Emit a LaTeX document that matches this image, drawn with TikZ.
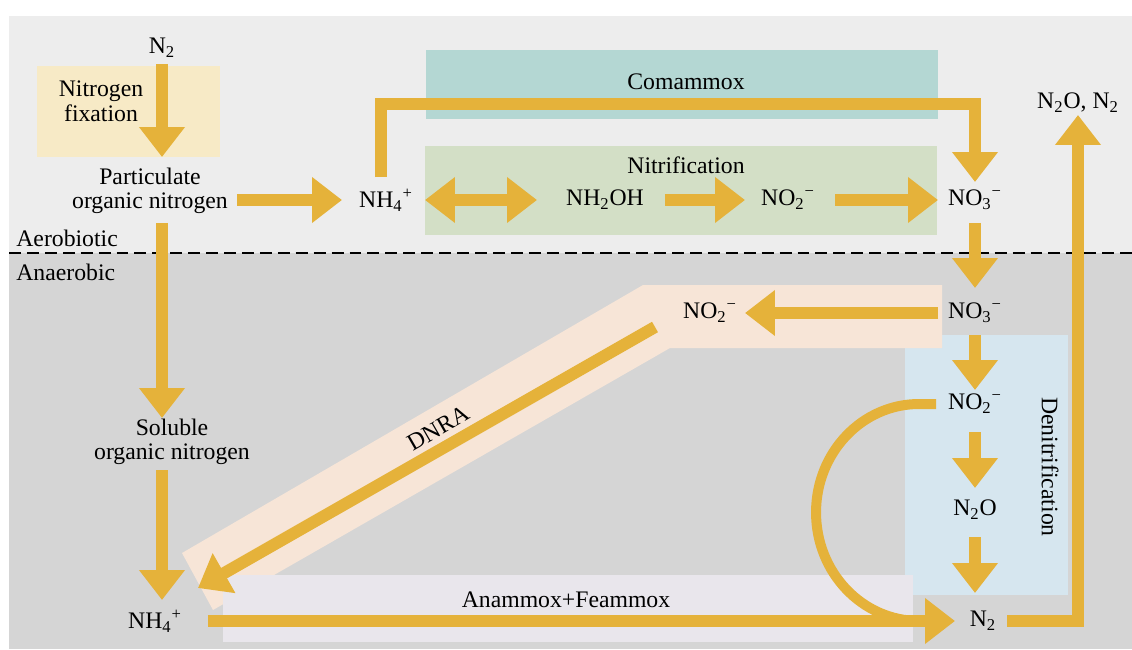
\documentclass[tikz,border=0pt]{standalone}
\usepackage{fontspec}
\setmainfont{Liberation Serif}
\usetikzlibrary{arrows.meta}
\definecolor{flowc}{HTML}{E5B23A}
\definecolor{upperc}{HTML}{EDEDED}
\definecolor{lowerc}{HTML}{D5D5D5}
\definecolor{fixc}{HTML}{F7EAC6}
\definecolor{commc}{HTML}{B4D7D3}
\definecolor{nitrc}{HTML}{D3DFC6}
\definecolor{denitc}{HTML}{D6E6EF}
\definecolor{dnrac}{HTML}{F7E5D7}
\definecolor{anamc}{HTML}{E9E6EC}
\begin{document}
\begin{tikzpicture}[x=0.02cm, y=-0.02cm,
    lbl/.style = {inner sep=0pt, font=\fontsize{13.5}{14}\selectfont, align=center},
    flow/.style = {draw=flowc, line width=0.24cm, line join=miter, -{Triangle[width=0.88cm,length=0.6cm]}},
    flowboth/.style = {draw=flowc, line width=0.24cm, {Triangle[width=0.88cm,length=0.6cm]}-{Triangle[width=0.88cm,length=0.6cm]}}]
        \useasboundingbox (0,0) rectangle (1132,649);
        \fill[white] (0,0) rectangle (1132,649);
        \fill[upperc] (9,16) rectangle (1132,253);
        \fill[lowerc] (9,253) rectangle (1132,649);
        % boxes of the processes
        \fill[fixc] (37,66) rectangle (220,157);
        \fill[commc] (426,50) rectangle (938,119);
        \fill[nitrc] (425,146) rectangle (937,235);
        \fill[denitc] (905,335) rectangle (1068,595);
        \fill[dnrac] (182,553) -- (643,285) -- (942,285) -- (942,348) -- (670,348) -- (213,610) -- cycle;
        \fill[anamc] (223,575) rectangle (913,642);
        \draw[line width=1.1pt, dash pattern=on 6.8pt off 3.4pt] (9,253) -- (1132,253);
        %
        \node[lbl] (n2a) at (162,48) {N\textsubscript{2}};
        \node[lbl] (fix) at (101,101) {Nitrogen\\fixation};
        \node[lbl] (pon) at (150,191) {Particulate\\organic nitrogen};
        \node[lbl] (nh4a) at (386,200) {NH\textsubscript{4}\textsuperscript{+}};
        \node[lbl] (comm) at (686,82) {Comammox};
        \node[lbl] (nitr) at (686,165) {Nitrification};
        \node[lbl] (nh2oh) at (605,200) {NH\textsubscript{2}OH};
        \node[lbl] (no2a) at (788,200) {NO\textsubscript{2}\textsuperscript{−}};
        \node[lbl] (no3a) at (975,200) {NO\textsubscript{3}\textsuperscript{−}};
        \node[lbl] (n2on2) at (1078,103) {N\textsubscript{2}O, N\textsubscript{2}};
        \node[lbl, anchor=west] (aer) at (16,238) {Aerobiotic};
        \node[lbl, anchor=west] (ana) at (16,272) {Anaerobic};
        \node[lbl] (no3b) at (975,313) {NO\textsubscript{3}\textsuperscript{−}};
        \node[lbl] (no2b) at (710,313) {NO\textsubscript{2}\textsuperscript{−}};
        \node[lbl] (no2c) at (975,404) {NO\textsubscript{2}\textsuperscript{−}};
        \node[lbl] (n2o) at (975,510) {N\textsubscript{2}O};
        \node[lbl] (n2b) at (983,621) {N\textsubscript{2}};
        \node[lbl] (son) at (172,442) {Soluble\\organic nitrogen};
        \node[lbl] (nh4b) at (155,621) {NH\textsubscript{4}\textsuperscript{+}};
        \node[lbl, rotate=30] (dnra) at (438,428) {DNRA};
        \node[lbl] (anam) at (566,600) {Anammox+Feammox};
        \node[lbl, rotate=-90] (denit) at (1050,467) {Denitrification};
        \coordinate (cbend) at (975,104);
        %
        \draw[flow, shorten <=0.32cm, shorten >=0.68cm] (n2a.center) -- (n2a.center |- pon.center);
        \draw[flow, shorten <=1.74cm, shorten >=0.88cm] (pon.center |- nh4a.center) -- (nh4a.center);
        \draw[flow, shorten <=0.64cm, shorten >=0.48cm] (n2a.center |- pon.center) -- (n2a.center |- son.center);
        \draw[flow, shorten <=0.56cm, shorten >=0.42cm] (n2a.center |- son.center) -- (n2a.center |- nh4b.center);
        \draw[flow, shorten <=1.06cm, shorten >=0.56cm] (nh4b.center) -- (nh4b.center -| n2b.center);
        \draw[flow, shorten >=0.36cm] ([xshift=-0.1cm,yshift=0.46cm]nh4a.center) |- (cbend) -- (cbend |- no3a.center);
        \draw[flowboth, shorten <=0.78cm, shorten >=1.36cm] (nh4a.center) -- (nh2oh.center);
        \draw[flow, shorten <=1.2cm, shorten >=0.86cm] (nh2oh.center) -- (no2a.center);
        \draw[flow, shorten <=0.94cm, shorten >=0.74cm] (no2a.center) -- (no3a.center);
        \draw[flow, shorten <=0.46cm, shorten >=0.5cm] (no3a.center) -- (no3b.center);
        \draw[flow, shorten <=0.74cm, shorten >=0.7cm] (no3b.center) -- (no2b.center);
        \draw[flow] ([xshift=-1.1cm,yshift=-0.28cm]no2b.center) -- ([xshift=0.86cm,yshift=0.66cm]nh4b.center);
        \draw[flow, shorten <=0.44cm, shorten >=0.28cm] (no3b.center) -- (no2c.center);
        \draw[flow, shorten <=0.56cm, shorten >=0.44cm] (no2c.center) -- (n2o.center);
        \draw[flow, shorten <=0.54cm, shorten >=0.56cm] (n2o.center) -- (n2o.center |- n2b.center);
        \draw[flowc, line width=0.2cm] ([xshift=-0.78cm]no2c.center) -- ++(-0.34cm,0) arc[start angle=90, end angle=270, x radius=2.06cm, y radius=2.17cm];
        \draw[flow, shorten >=0.24cm] ([xshift=0.48cm]n2b.center) -| (n2on2.center);
\end{tikzpicture}
\end{document}
